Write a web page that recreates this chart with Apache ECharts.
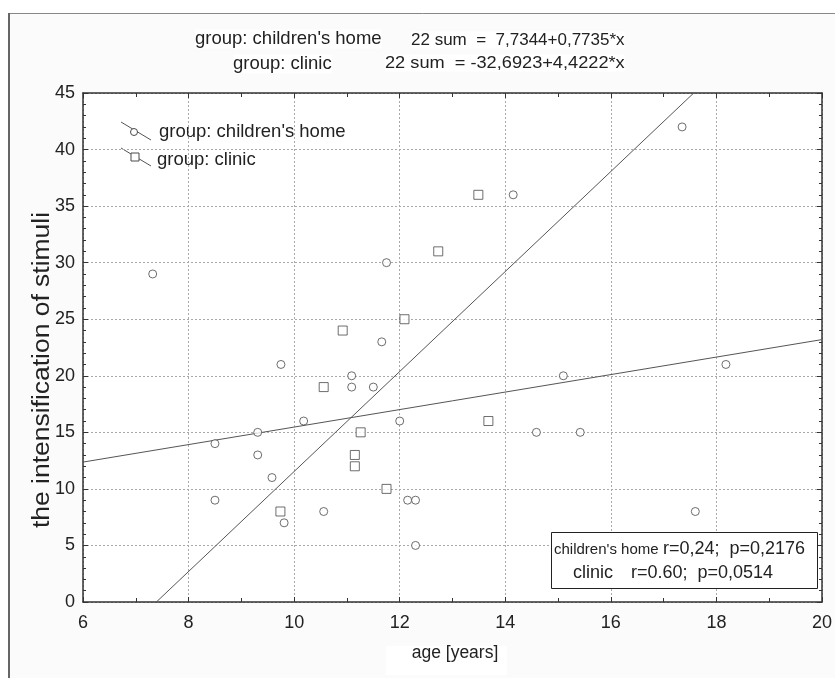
<!DOCTYPE html>
<html>
<head>
    <meta charset="utf-8">
    <title>age vs intensification of stimuli</title>
    <script src="https://cdn.jsdelivr.net/npm/echarts@6/dist/echarts.min.js"></script>
    <style>
        body { margin: 0; background: #fff; }
        #chart { width: 835px; height: 678px; }
    </style>
</head>
<body>
<div id="chart"></div>

<script type="text/javascript">
    // points: [age, sum]
    var childrensHome = [
        [7.32, 29], [8.5, 14], [8.5, 9], [9.31, 15], [9.31, 13], [9.58, 11],
        [9.75, 21], [9.81, 7], [10.18, 16], [10.56, 8], [11.09, 20], [11.09, 19],
        [11.5, 19], [11.66, 23], [11.75, 30], [12.0, 16], [12.15, 9], [12.3, 9],
        [12.3, 5], [14.15, 36], [14.59, 15], [15.1, 20], [15.42, 15], [17.35, 42],
        [17.6, 8], [18.18, 21]
    ];
    var clinic = [
        [9.74, 8], [10.56, 19], [10.92, 24], [11.15, 13], [11.15, 12], [11.26, 15],
        [11.75, 10], [12.09, 25], [12.73, 31], [13.49, 36], [13.68, 16]
    ];
    // ends of the two fitted lines as drawn
    var childrensHomeFit = [[6, 12.37], [20, 23.2]];
    var clinicFit = [[7.39, 0], [17.57, 45]];

    var xTicks = [6, 8, 10, 12, 14, 16, 18, 20];
    var yTicks = [0, 5, 10, 15, 20, 25, 30, 35, 40, 45];

    var sans = '"Liberation Sans", Arial, sans-serif';
    var ink = '#222';
    var markColor = '#4a4a4a';

    var chart = echarts.init(document.getElementById('chart'));

    var tickInside = { show: true, inside: true, length: 5, lineStyle: { color: '#333' } };
    var minorInside = { show: true, splitNumber: 2, length: 4, lineStyle: { color: '#333' } };
    var yMinor = { show: true, splitNumber: 5, length: 3, lineStyle: { color: '#333' } };
    var frameLine = { show: true, onZero: false, lineStyle: { color: '#333', width: 1.5 } };

    var option = {
        backgroundColor: '#fff',
        animation: false,
        grid: { left: 83, right: 12, top: 93, bottom: 76, show: true, backgroundColor: '#fff', borderWidth: 0 },
        xAxis: [{
            type: 'value', min: xTicks[0], max: xTicks[xTicks.length - 1], interval: 2,
            axisLine: frameLine,
            axisTick: tickInside,
            minorTick: minorInside,
            axisLabel: { fontFamily: sans, fontSize: 18, color: ink, margin: 12 },
            splitLine: { show: true, lineStyle: { color: '#aaa', type: [2, 2] } }
        }, {
            type: 'value', position: 'top', min: xTicks[0], max: xTicks[xTicks.length - 1], interval: 2,
            axisLine: frameLine,
            axisTick: tickInside,
            minorTick: minorInside,
            axisLabel: { show: false },
            splitLine: { show: false }
        }],
        yAxis: [{
            type: 'value', min: yTicks[0], max: yTicks[yTicks.length - 1], interval: 5,
            axisLine: frameLine,
            axisTick: tickInside,
            minorTick: yMinor,
            axisLabel: { fontFamily: sans, fontSize: 18, color: ink, margin: 8 },
            splitLine: { show: true, lineStyle: { color: '#aaa', type: [2, 2] } }
        }, {
            type: 'value', position: 'right', min: yTicks[0], max: yTicks[yTicks.length - 1], interval: 5,
            axisLine: frameLine,
            axisTick: tickInside,
            minorTick: yMinor,
            axisLabel: { show: false },
            splitLine: { show: false }
        }],
        series: [{
            name: "group: children's home",
            type: 'scatter',
            data: childrensHome,
            symbol: 'circle',
            symbolSize: 8,
            itemStyle: { color: '#fff', borderColor: markColor, borderWidth: 1 },
            z: 4
        }, {
            name: 'group: clinic',
            type: 'scatter',
            data: clinic,
            symbol: 'rect',
            symbolSize: 9,
            itemStyle: { color: '#fff', borderColor: markColor, borderWidth: 1 },
            z: 4
        }, {
            type: 'line',
            data: childrensHomeFit,
            showSymbol: false,
            lineStyle: { color: '#555', width: 1 },
            z: 3
        }, {
            type: 'line',
            data: clinicFit,
            showSymbol: false,
            lineStyle: { color: '#555', width: 1 },
            z: 3
        }],
        graphic: [
            // outer frame
            { type: 'rect', z: -10, shape: { x: 8.5, y: 13.5, width: 840, height: 700 },
              style: { fill: '#fbfbfb', stroke: '#888', lineWidth: 1 } },
            { type: 'line', z: -9, shape: { x1: 9, y1: 13, x2: 9, y2: 678 },
              style: { stroke: '#666', lineWidth: 2 } },
            // fitted equations
            { type: 'text', x: 195, y: 39, style: { text: "group: children's home", font: '18.5px ' + sans, fill: ink, verticalAlign: 'middle', backgroundColor: '#fff' } },
            { type: 'text', x: 411, y: 40, style: { text: '22 sum  =  7,7344+0,7735*x', font: '17px ' + sans, fill: ink, verticalAlign: 'middle', backgroundColor: '#fff' } },
            { type: 'text', x: 233, y: 64, style: { text: 'group: clinic', font: '18.5px ' + sans, fill: ink, verticalAlign: 'middle', backgroundColor: '#fff' } },
            { type: 'text', x: 385, y: 63, scaleX: 1.07, style: { text: '22 sum  = -32,6923+4,4222*x', font: '17px ' + sans, fill: ink, verticalAlign: 'middle', backgroundColor: '#fff' } },
            // legend
            { type: 'line', shape: { x1: 121, y1: 122, x2: 151, y2: 140 }, style: { stroke: '#555', lineWidth: 1 } },
            { type: 'circle', shape: { cx: 134, cy: 132, r: 3.5 }, style: { fill: '#fff', stroke: markColor, lineWidth: 1 } },
            { type: 'text', x: 159, y: 132, style: { text: "group: children's home", font: '18.5px ' + sans, fill: ink, verticalAlign: 'middle' } },
            { type: 'line', shape: { x1: 121, y1: 148, x2: 151, y2: 166 }, style: { stroke: '#555', lineWidth: 1 } },
            { type: 'rect', shape: { x: 131, y: 153, width: 8, height: 8 }, style: { fill: '#fff', stroke: markColor, lineWidth: 1 } },
            { type: 'text', x: 157, y: 160, style: { text: 'group: clinic', font: '18.5px ' + sans, fill: ink, verticalAlign: 'middle' } },
            // correlation box
            { type: 'rect', z: 10, shape: { x: 551.5, y: 532.5, width: 266, height: 56 }, style: { fill: '#fff', stroke: '#222', lineWidth: 1 } },
            { type: 'text', z: 11, x: 554, y: 550, style: { text: "children's home", font: '15px ' + sans, fill: ink, verticalAlign: 'middle' } },
            { type: 'text', z: 11, x: 663, y: 549, style: { text: 'r=0,24;  p=0,2176', font: '18px ' + sans, fill: ink, verticalAlign: 'middle' } },
            { type: 'text', z: 11, x: 573, y: 573, style: { text: 'clinic', font: '18px ' + sans, fill: ink, verticalAlign: 'middle' } },
            { type: 'text', z: 11, x: 631, y: 573, style: { text: 'r=0.60;  p=0,0514', font: '18px ' + sans, fill: ink, verticalAlign: 'middle' } },
            // axis titles
            { type: 'rect', shape: { x: 386, y: 646, width: 121, height: 29 }, style: { fill: '#fff' } },
            { type: 'text', x: 455, y: 653, style: { text: 'age [years]', font: '17.5px ' + sans, fill: ink, align: 'center', verticalAlign: 'middle' } },
            { type: 'text', x: 43, y: 370, rotation: Math.PI / 2, scaleX: 1.15, style: { text: 'the intensification of stimuli', font: '23px ' + sans, fill: ink, align: 'center', verticalAlign: 'middle' } }
        ]
    };

    chart.setOption(option);
</script>
</body>
</html>
